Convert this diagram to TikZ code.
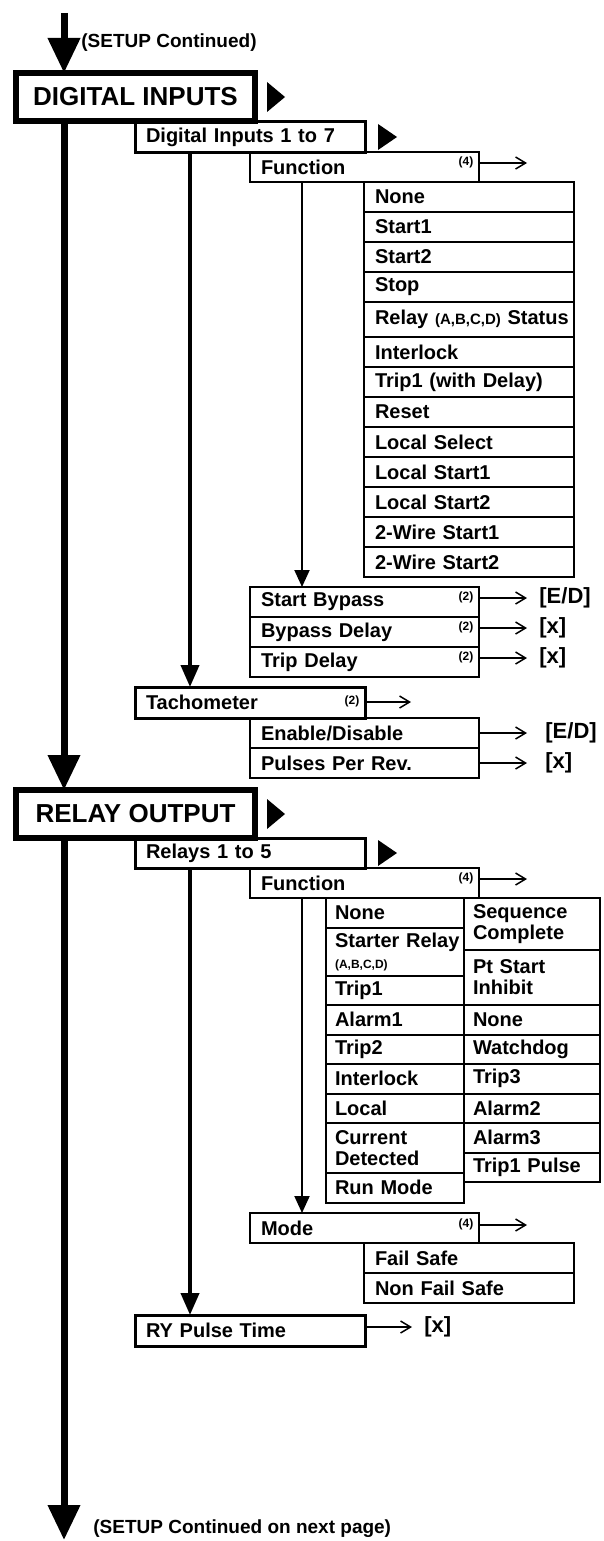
\documentclass[tikz,border=0pt]{standalone}
\usepackage{fontspec}
\setmainfont{Liberation Sans}
\usetikzlibrary{arrows.meta}

\begin{document}
\begin{tikzpicture}[x=0.5pt,y=-0.5pt,
  headbox/.style={draw,line width=3pt,outer sep=0pt,inner sep=0pt,anchor=north west,
    minimum width=119.5pt,minimum height=24pt,font=\fontsize{13}{14}\selectfont\bfseries},
  subbox/.style={draw,line width=1.5pt,outer sep=0pt,anchor=north west,inner xsep=5.5pt,inner ysep=0pt,
    text width=104pt,minimum height=15pt,align=left,font=\fontsize{10}{10.5}\selectfont\bfseries},
  fnbox/.style={subbox,line width=1pt,text width=103.5pt},
  optbox/.style={subbox,line width=1pt,text width=94pt},
  lcol/.style={subbox,line width=1pt,inner xsep=4.5pt,text width=60pt,minimum height=14.75pt},
  rcol/.style={subbox,line width=1pt,inner xsep=4.5pt,text width=59pt,minimum height=14.75pt},
  note/.style={inner sep=0pt,font=\fontsize{6}{6}\selectfont\bfseries},
  val/.style={anchor=west,inner xsep=6pt,inner ysep=0pt,font=\fontsize{11}{12}\selectfont\bfseries},
  remark/.style={anchor=west,inner sep=0pt,font=\fontsize{9.5}{10}\selectfont\bfseries},
  mainarr/.style={line width=3.5pt,-{Triangle[length=17.5pt,width=15.5pt]}},
  subarr/.style={line width=2pt,-{Triangle[length=11pt,width=9pt]}},
  fnarr/.style={line width=1pt,-{Triangle[length=8.5pt,width=7.5pt]}},
  outarr/.style={line width=0.75pt,-{Straight Barb[length=5pt,width=6pt]}}
]
\useasboundingbox (0,0) rectangle (604,1541);

\coordinate (top) at (64,13);
\node[remark] (cont) at (81,43) {(SETUP Continued)};

\node[headbox] (di) at (16,73) {DIGITAL INPUTS};
\fill ([xshift=6pt,yshift=7.5pt]di.east) -- ++(18,15) -- ++(-18,15) -- cycle;

\node[subbox] (dinp) at (135,122) {Digital Inputs 1 to 7};
\fill ([xshift=6.5pt,yshift=6.5pt]dinp.east) -- ++(19,13) -- ++(-19,13) -- cycle;

\node[fnbox] (difn) at (250,152) {Function};
\node[note] (difnn) at (466,162) {(4)};
\coordinate (difnout) at (527,163);
\draw[outarr] (difn.east |- difnout) -- (difnout);

\node[optbox] (none) at (364,182) {None};
\node[optbox] (start1) at (364,212) {Start1};
\node[optbox] (start2) at (364,242) {Start2};
\node[optbox] (stop) at (364,272) {Stop};
\node[optbox,minimum height=17.5pt] (rlystat) at (364,302) {\mbox{Relay {\fontsize{7.5}{8}\selectfont(A,B,C,D)} Status}};
\node[optbox] (ilock) at (364,337) {Interlock};
\node[optbox] (trip1d) at (364,367) {Trip1 (with Delay)};
\node[optbox] (reset) at (364,397) {Reset};
\node[optbox] (lsel) at (364,427) {Local Select};
\node[optbox] (lstart1) at (364,457) {Local Start1};
\node[optbox] (lstart2) at (364,487) {Local Start2};
\node[optbox] (wstart1) at (364,517) {2-Wire Start1};
\node[optbox] (wstart2) at (364,547) {2-Wire Start2};

\node[fnbox] (sbyp) at (250,587) {Start Bypass};
\node[fnbox] (bypd) at (250,617) {Bypass Delay};
\node[fnbox] (tripd) at (250,647) {Trip Delay};
\node[note] (sbypn) at (466,597) {(2)};
\node[note] (bypdn) at (466,627) {(2)};
\node[note] (tripdn) at (466,657) {(2)};
\node[val] (sbypv) at (527,598) {[E/D]};
\node[val] (bypdv) at (527,628) {[x]};
\node[val] (tripdv) at (527,658) {[x]};
\draw[outarr] (sbyp.east |- sbypv.west) -- (sbypv.west);
\draw[outarr] (bypd.east |- bypdv.west) -- (bypdv.west);
\draw[outarr] (tripd.east |- tripdv.west) -- (tripdv.west);
\draw[fnarr] ([xshift=26pt]difn.south west) -- ([xshift=26pt]sbyp.north west);

\node[subbox,minimum height=15.5pt] (tacho) at (135,687) {Tachometer};
\node[note] (tachon) at (352,701) {(2)};
\coordinate (tachout) at (411,702);
\draw[outarr] (tacho.east |- tachout) -- (tachout);
\node[fnbox] (endis) at (250,718) {Enable/Disable};
\node[fnbox] (ppr) at (250,748) {Pulses Per Rev.};
\node[val,inner xsep=9pt] (endisv) at (527,733) {[E/D]};
\node[val,inner xsep=9pt] (pprv) at (527,763) {[x]};
\draw[outarr] (endis.east |- endisv.west) -- (endisv.west);
\draw[outarr] (ppr.east |- pprv.west) -- (pprv.west);
\draw[subarr] ([xshift=27.5pt]dinp.south west) -- ([xshift=27.5pt]tacho.north west);

\node[headbox] (ro) at (16,790) {RELAY OUTPUT};
\fill ([xshift=6pt,yshift=7.5pt]ro.east) -- ++(18,15) -- ++(-18,15) -- cycle;

\node[subbox] (rlys) at (135,838) {Relays 1 to 5};
\fill ([xshift=6.5pt,yshift=6.5pt]rlys.east) -- ++(19,13) -- ++(-19,13) -- cycle;

\node[fnbox] (rofn) at (250,868) {Function};
\node[note] (rofnn) at (466,878) {(4)};
\coordinate (rofnout) at (527,879);
\draw[outarr] (rofn.east |- rofnout) -- (rofnout);

\node[lcol] (rnone) at (326,898) {None};
\node[lcol,minimum height=24pt] (starter) at (326,927.5) {\mbox{Starter Relay}\\{\fontsize{6}{6.5}\selectfont(A,B,C,D)}};
\node[lcol] (rtrip1) at (326,975.5) {Trip1};
\node[lcol] (alarm1) at (326,1005) {Alarm1};
\node[lcol] (trip2) at (326,1034.5) {Trip2};
\node[lcol] (rilock) at (326,1064) {Interlock};
\node[lcol] (local) at (326,1093.5) {Local};
\node[lcol,minimum height=25pt] (curdet) at (326,1123) {Current\\Detected};
\node[lcol] (runmode) at (326,1173) {Run Mode};

\node[rcol,minimum height=26pt] (seqc) at (464,898) {Sequence\\Complete};
\node[rcol,minimum height=27.5pt] (ptinh) at (464,950) {Pt Start\\Inhibit};
\node[rcol] (rnone2) at (464,1005) {None};
\node[rcol] (wdog) at (464,1034.5) {Watchdog};
\node[rcol] (trip3) at (464,1064) {Trip3};
\node[rcol] (alarm2) at (464,1093.5) {Alarm2};
\node[rcol] (alarm3) at (464,1123) {Alarm3};
\node[rcol] (trip1p) at (464,1152.5) {Trip1 Pulse};

\node[fnbox] (mode) at (250,1213) {Mode};
\node[note] (moden) at (466,1224) {(4)};
\coordinate (modeout) at (527,1225);
\draw[outarr] (mode.east |- modeout) -- (modeout);
\node[optbox] (fsafe) at (364,1243) {Fail Safe};
\node[optbox] (nfsafe) at (364,1273) {Non Fail Safe};
\draw[fnarr] ([xshift=26pt]rofn.south west) -- ([xshift=26pt]mode.north west);

\node[subbox,minimum height=15.5pt] (rypt) at (135,1315) {RY Pulse Time};
\node[val] (ryptv) at (412,1327) {[x]};
\draw[outarr] (rypt.east |- ryptv.west) -- (ryptv.west);
\draw[subarr] ([xshift=27.5pt]rlys.south west) -- ([xshift=27.5pt]rypt.north west);

\coordinate (bottom) at (64,1540);
\node[remark] (next) at (93,1529) {(SETUP Continued on next page)};

\draw[mainarr] (top) -- (top |- di.north);
\draw[mainarr] (top |- di.south) -- (top |- ro.north);
\draw[mainarr] (top |- ro.south) -- (bottom);

\end{tikzpicture}
\end{document}
